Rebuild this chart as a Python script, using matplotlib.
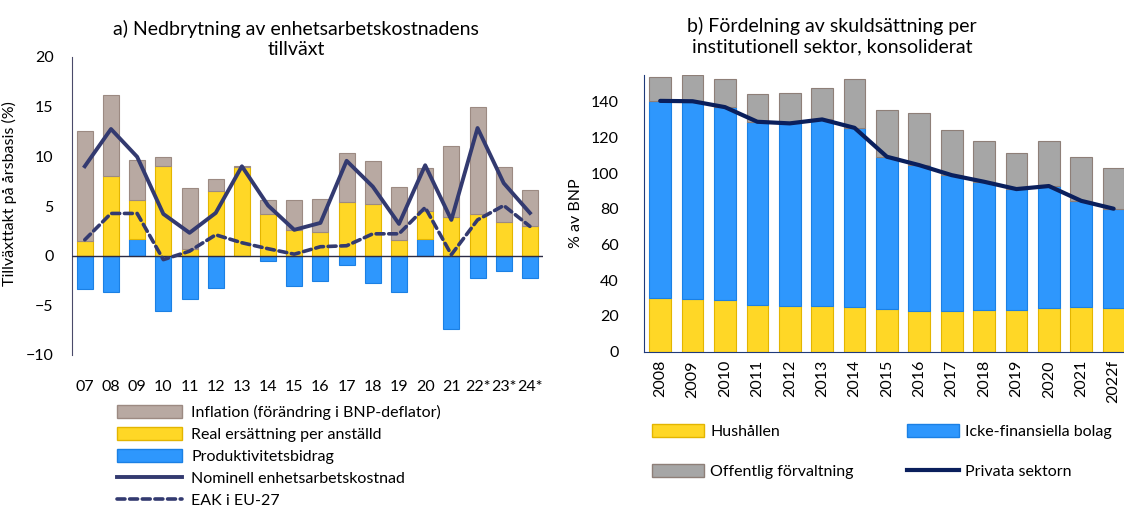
import matplotlib
matplotlib.use("Agg")
import matplotlib.pyplot as plt
import numpy as np
from matplotlib.patches import Patch
from matplotlib.lines import Line2D

plt.rcParams['font.family'] = ['Lato', 'DejaVu Sans']

# ---------------- Panel a data ----------------
years_a = ["07", "08", "09", "10", "11", "12", "13", "14", "15", "16", "17",
           "18", "19", "20", "21", "22*", "23*", "24*"]
produktivitet = [-3.35, -3.65, 1.65, -5.6, -4.35, -3.25, 0.0, -0.55, -3.1, -2.5,
                 -0.95, -2.75, -3.65, 1.7, -7.35, -2.25, -1.5, -2.25]
real_ers = [1.45, 8.05, 3.95, 9.05, 0.65, 6.55, 8.9, 4.2, 2.6, 2.35,
            5.45, 5.25, 1.6, 2.75, 3.9, 4.2, 3.4, 3.0]
inflation = [11.1, 8.15, 4.0, 0.85, 6.15, 1.15, 0.1, 1.4, 3.0, 3.4,
             4.85, 4.25, 5.3, 4.35, 7.15, 10.8, 5.5, 3.6]
nominell = [9.0, 12.75, 9.95, 4.2, 2.3, 4.3, 9.0, 5.05, 2.6, 3.3,
            9.55, 6.95, 3.2, 9.1, 3.6, 12.85, 7.3, 4.3]
eak_eu27 = [1.6, 4.25, 4.25, -0.4, 0.45, 2.1, 1.3, 0.7, 0.15, 0.9,
            1.0, 2.2, 2.2, 4.85, 0.1, 3.6, 5.05, 2.95]

# ---------------- Panel b data ----------------
years_b = ["2008", "2009", "2010", "2011", "2012", "2013", "2014", "2015",
           "2016", "2017", "2018", "2019", "2020", "2021", "2022f"]
hushallen = [29.9, 29.5, 28.8, 26.3, 25.4, 25.6, 25.2, 23.7, 23.0, 22.6,
             23.3, 23.2, 24.6, 25.0, 24.3]
icke_fin = [110.6, 110.5, 108.4, 102.5, 102.5, 104.5, 100.2, 85.5, 81.5, 76.3,
            71.9, 67.9, 68.2, 59.5, 55.8]
offentlig = [13.5, 14.8, 15.3, 15.3, 16.9, 17.4, 27.3, 26.0, 29.2, 25.2,
             22.6, 20.2, 25.0, 24.3, 22.9]
privata = [140.5, 140.3, 137.0, 128.8, 127.9, 130.1, 125.4, 109.2, 104.5, 98.9,
           95.2, 91.1, 92.8, 84.5, 80.1]

# colours
c_infl = "#B8A9A2"; e_infl = "#9C8A82"
c_real = "#FFD726"; e_real = "#E3B500"
c_prod = "#2E97FD"; e_prod = "#1B80E4"
c_grey = "#A6A6A6"; e_grey = "#8E7F78"
c_nom = "#333A70"
c_priv = "#0A1F5C"

W, H = 1124, 513
fig = plt.figure(figsize=(W / 100, H / 100), dpi=100)

def fx(px):
    return px / W

def fy(py):
    return 1 - py / H

FS = 11.5
dash = (0, (2.2, 1.3))

# ---------------- Panel a ----------------
axa = fig.add_axes([fx(71.7), fy(355), fx(543 - 71.7), (355 - 57) / H])
xa = np.arange(len(years_a))
prod = np.array(produktivitet)
real = np.array(real_ers)
infl = np.array(inflation)
pos_base = np.where(prod > 0, prod, 0)
bw = 0.61
axa.bar(xa, prod, bw, color=c_prod, edgecolor=e_prod, linewidth=0.8, zorder=2)
axa.bar(xa, real, bw, bottom=pos_base, color=c_real, edgecolor=e_real, linewidth=0.8, zorder=2)
axa.bar(xa, infl, bw, bottom=pos_base + real, color=c_infl, edgecolor=e_infl, linewidth=0.8, zorder=2)
axa.axhline(0, color="#2B2B45", lw=1.0, zorder=3)
axa.plot(xa, nominell, color=c_nom, lw=2.8, zorder=4)
axa.plot(xa, eak_eu27, color=c_nom, lw=2.6, ls=dash, dash_capstyle='round', zorder=4)
axa.set_xlim(-0.5, len(years_a) - 0.5)
axa.set_ylim(-10, 20)
axa.set_yticks(np.arange(-10, 21, 5))
axa.set_xticks(xa)
axa.set_xticklabels(years_a)
axa.tick_params(axis='y', length=0, pad=13, labelsize=FS)
axa.tick_params(axis='x', length=0, pad=18, labelsize=FS)
for s in ["top", "right", "bottom"]:
    axa.spines[s].set_visible(False)
axa.spines["left"].set_color("#4A4A6A")
axa.set_ylabel("Tillväxttakt på årsbasis (%)", fontsize=FS)
axa.yaxis.set_label_coords((17 - 71.7) / (543 - 71.7), (355 - 194) / (355 - 57))
fig.text(fx(296), fy(39), "a) Nedbrytning av enhetsarbetskostnadens\ntillväxt",
         ha="center", va="center", fontsize=14, linespacing=1.25)

handles_a = [Patch(facecolor=c_infl, edgecolor=e_infl),
             Patch(facecolor=c_real, edgecolor=e_real),
             Patch(facecolor=c_prod, edgecolor=e_prod),
             Line2D([], [], color=c_nom, lw=2.8),
             Line2D([], [], color=c_nom, lw=2.6, ls=dash, dash_capstyle='round')]
labels_a = ["Inflation (förändring i BNP-deflator)", "Real ersättning per anställd",
            "Produktivitetsbidrag", "Nominell enhetsarbetskostnad", "EAK i EU-27"]
fig.legend(handles_a, labels_a, loc="upper left", bbox_to_anchor=(fx(117), fy(405)),
           frameon=False, fontsize=FS, handlelength=4.1, handleheight=0.85,
           labelspacing=0.45, handletextpad=0.55, borderaxespad=0, borderpad=0)

# ---------------- Panel b ----------------
axb = fig.add_axes([fx(644), fy(351.7), fx(1124 - 644), (351.7 - 75) / H])
xb = np.arange(len(years_b))
hh = np.array(hushallen)
nf = np.array(icke_fin)
of = np.array(offentlig)
bw2 = 0.67
axb.bar(xb, hh, bw2, color=c_real, edgecolor=e_real, linewidth=0.8, zorder=2)
axb.bar(xb, nf, bw2, bottom=hh, color=c_prod, edgecolor=e_prod, linewidth=0.8, zorder=2)
axb.bar(xb, of, bw2, bottom=hh + nf, color=c_grey, edgecolor=e_grey, linewidth=0.8, zorder=2)
axb.plot(xb, privata, color=c_priv, lw=3.0, zorder=4, solid_capstyle='round')
axb.set_xlim(-0.5, len(years_b) - 0.5 - 0.18)
axb.set_ylim(0, 155)
axb.set_yticks(np.arange(0, 141, 20))
axb.set_xticks(xb)
axb.set_xticklabels(years_b, rotation=90)
axb.tick_params(axis='y', length=0, pad=18, labelsize=FS)
axb.tick_params(axis='x', length=0, pad=6, labelsize=FS)
for s in ["top", "right"]:
    axb.spines[s].set_visible(False)
axb.spines["left"].set_color("#1F3A7A")
axb.spines["bottom"].set_color("#1F3A7A")
axb.set_ylabel("% av BNP", fontsize=FS, labelpad=6)
fig.text(fx(832), fy(36), "b) Fördelning av skuldsättning per\ninstitutionell sektor, konsoliderat",
         ha="center", va="center", fontsize=14, linespacing=1.25)

lkw = dict(frameon=False, fontsize=FS, handlelength=3.25, handleheight=0.85,
           labelspacing=1.6, handletextpad=0.4, borderaxespad=0, borderpad=0, loc="upper left")
leg1 = fig.legend([Patch(facecolor=c_real, edgecolor=e_real),
                   Patch(facecolor=c_grey, edgecolor=e_grey)],
                  ["Hushållen", "Offentlig förvaltning"],
                  bbox_to_anchor=(fx(652), fy(424)), **lkw)
leg2 = fig.legend([Patch(facecolor=c_prod, edgecolor=e_prod),
                   Line2D([], [], color=c_priv, lw=3.0)],
                  ["Icke-finansiella bolag", "Privata sektorn"],
                  bbox_to_anchor=(fx(907), fy(424)), **lkw)

fig.savefig("out.png", dpi=100)
